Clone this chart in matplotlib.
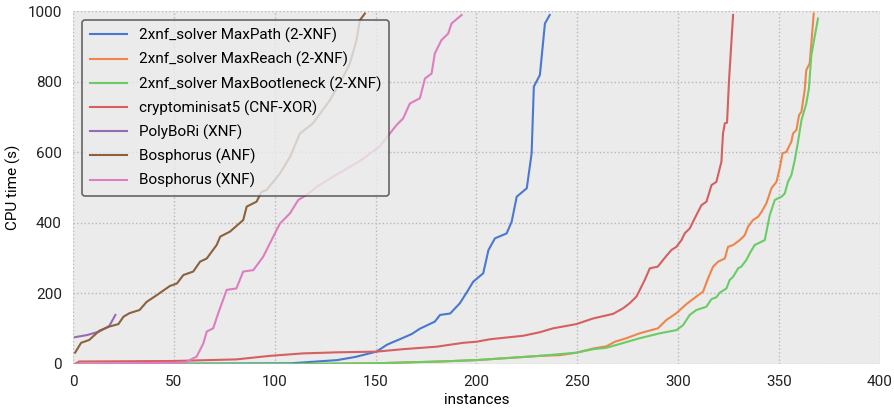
import matplotlib as mpl
mpl.use('Agg')
import matplotlib.pyplot as plt

mpl.rcParams['font.family'] = ['Roboto', 'DejaVu Sans']
mpl.rcParams['font.size'] = 11.

# cactus data: (instances solved, cpu time)
maxpath_x = [1, 108, 131, 140, 150.5, 155.5, 157, 162, 168, 172, 179.4, 182, 187, 191.8, 196, 198.4,
             203.4, 206, 209.2, 215, 217.5, 220, 225, 227.4, 228.5, 231.5, 234, 236.4]
maxpath_y = [0, 2, 11, 20, 35, 54, 58, 70, 85, 100, 120, 139, 143, 172, 210, 233,
             257, 323, 356, 370, 403, 474, 498, 597, 786, 819, 965, 989]

maxreach_x = [1, 110, 150, 182, 200, 231.5, 241.4, 249.6, 258, 264.5, 268.7, 274.4, 281, 290, 294.3,
              299.2, 304.2, 309.1, 312.4, 314.9, 317.4, 319.9, 323.2, 324.8, 327.3, 330.6, 333.1,
              334.7, 337.2, 339.7, 341.4, 343.8, 346.3, 348.8, 350.4, 351.8, 353.7, 356.2, 357,
              358.7, 360, 361.2, 362.8, 363.6, 365.3, 366.1, 367.3]
maxreach_y = [0, 0, 2, 7, 11, 23, 25, 32, 44, 50, 63, 73, 87, 101, 125,
              144, 170, 191, 205, 243, 276, 290, 299, 332, 337, 351, 365,
              389, 408, 417, 431, 455, 498, 516, 554, 597, 601, 630, 653,
              663, 705, 715, 776, 833, 852, 908, 993]

maxbottle_x = [1, 110, 150, 182, 200, 231.5, 249.6, 258, 264.5, 269.5, 281, 291, 299.2, 302.5, 305.8,
               309.1, 314, 316.6, 319, 320.7, 324, 325.6, 327.3, 329.8, 331.4, 333.9, 335.6, 338,
               343, 345.5, 348, 351.3, 352.9, 354.5, 356.2, 357.9, 359.5, 361.2, 363.6, 364.9,
               366.1, 369.4]
maxbottle_y = [0, 0, 2, 7, 11, 23, 32, 42, 46, 54, 73, 87, 96, 110, 139,
               153, 162, 184, 189, 202, 214, 238, 247, 271, 276, 295, 314, 337,
               351, 422, 465, 474, 483, 516, 535, 578, 630, 691, 738, 781,
               875, 979]

cms_x = [1, 3, 50, 81, 97.6, 114, 130.7, 150.5, 163.7, 180.3, 193.5, 200, 206.7, 223.2, 231.5, 238,
         249.6, 257.9, 267.8, 272.8, 276, 279.4, 283.5, 286, 290, 292.6, 296.7, 299.2, 301.7,
         303.3, 305.8, 308.3, 311.6, 314.1, 316.6, 319, 321.5, 322.3, 323.2, 324.3, 325.3, 327.3]
cms_y = [0, 7, 8.5, 13, 23, 30, 33, 35, 42, 49, 60, 63, 70, 80, 90, 101,
         113, 129, 142, 158, 172, 191, 238, 271, 276, 295, 323, 332, 351,
         370, 384, 413, 450, 460, 507, 516, 573, 653, 682, 684, 805, 989]

polybori_x = [1, 7, 13, 18, 21]
polybori_y = [76, 82, 92, 108, 139]

bosph_anf_x = [1, 4, 8, 13, 18, 22.5, 25, 28, 33, 36.5, 41.5, 48, 51.5, 54.7, 59.6, 63, 66.3, 71.2,
               73, 77.8, 84.4, 86.1, 91, 93.5, 96, 102.6, 107.6, 112.5, 119, 127.4, 134, 137.3,
               140.6, 142.2, 144.7]
bosph_anf_y = [32, 60, 68, 94, 106, 113, 134, 144, 153, 176, 195, 221, 228, 252, 262, 290, 299, 337,
               361, 375, 408, 446, 460, 488, 493, 540, 587, 653, 682, 748, 814, 852,
               918, 974, 993]

bosph_xnf_x = [1, 55.5, 61.3, 63, 64.6, 66.3, 69.5, 72, 76.2, 81, 84.4, 89.4, 94.3, 99.3, 102.6,
               107.6, 111.7, 115.8, 120.8, 129, 142.2, 152, 160.4, 163.7, 167, 172, 174.5, 177.8,
               179.4, 182.7, 186, 187.7, 192.7]
bosph_xnf_y = [0, 4, 21, 40, 58, 92, 101, 144, 210, 214, 262, 266, 304, 361, 398,
               427, 465, 479, 502, 531, 575, 616, 677, 696, 738, 753, 809, 823,
               880, 918, 936, 965, 989]

series = [
    ('2xnf_solver MaxPath (2-XNF)', maxpath_x, maxpath_y, '#4878d0'),
    ('2xnf_solver MaxReach (2-XNF)', maxreach_x, maxreach_y, '#ee854a'),
    ('2xnf_solver MaxBootleneck (2-XNF)', maxbottle_x, maxbottle_y, '#6acc64'),
    ('cryptominisat5 (CNF-XOR)', cms_x, cms_y, '#d65f5f'),
    ('PolyBoRi (XNF)', polybori_x, polybori_y, '#956cb4'),
    ('Bosphorus (ANF)', bosph_anf_x, bosph_anf_y, '#8c613c'),
    ('Bosphorus (XNF)', bosph_xnf_x, bosph_xnf_y, '#dc7ec0'),
]

fig, ax = plt.subplots(figsize=(8.94, 4.11), dpi=100)
plt.subplots_adjust(left=0.0817, right=0.984, bottom=0.1144, top=0.973)
ax.set_facecolor('#ebebeb')
for s in ax.spines.values():
    s.set_visible(False)

for label, xs, ys, c in series:
    ax.plot(xs, ys, color=c, lw=1.5, label=label)

ax.set_xlim(0, 400)
ax.set_ylim(0, 1000)
ax.set_xticks(range(0, 401, 50))
ax.set_yticks(range(0, 1001, 200))
ax.tick_params(length=0, pad=8, colors='#222222')
ax.grid(True, ls=':', color='#b8b8b8', lw=1)
ax.set_axisbelow(True)
ax.set_xlabel('instances', labelpad=3)
ax.set_ylabel('CPU time (s)', labelpad=5)

leg = ax.legend(loc='upper left', fontsize=11, framealpha=0.8, facecolor='#ebebeb',
                edgecolor='#444444', fancybox=True, handlelength=2.4, labelspacing=0.58,
                borderaxespad=0.6, borderpad=0.5)
leg.get_frame().set_linewidth(1.2)

fig.savefig('out.png', dpi=100)
